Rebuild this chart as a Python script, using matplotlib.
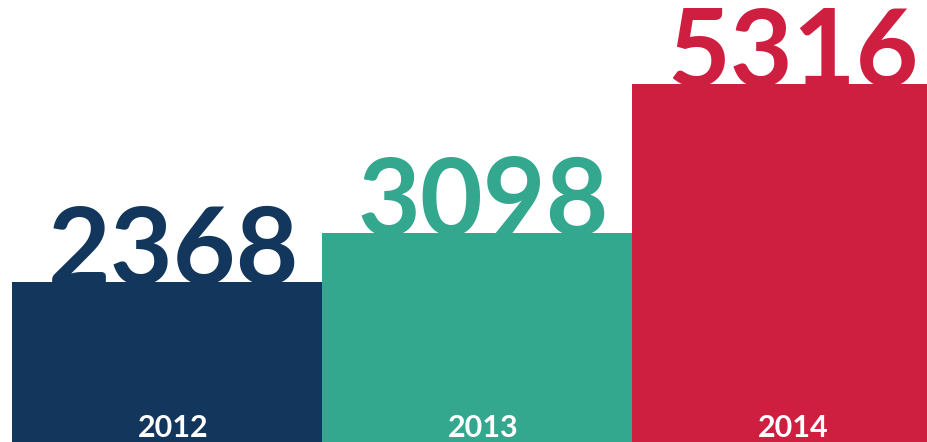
import matplotlib.pyplot as plt

# yearly totals
years = ["2012", "2013", "2014"]
totals = [2368, 3098, 5316]
colors = ["#13365C", "#34A78F", "#CF1F41"]

FONT = ["Lato", "DejaVu Sans"]

fig = plt.figure(figsize=(9.28, 4.42), dpi=100)
ax = fig.add_axes([12 / 928, 0, 916 / 928, 1])

x = range(len(years))
ax.bar(x, totals, width=1.0, color=colors, zorder=2)

ymax = 6558
ax.set_xlim(-0.5, 2.455)
ax.set_ylim(0, ymax)
px = ymax / 442  # data units per pixel

for i, (yr, val, c) in enumerate(zip(years, totals, colors)):
    ax.text(i + 0.02, val - 2 * px, str(val), ha="center", va="baseline",
            fontsize=78, fontweight="bold", color=c, family=FONT, zorder=1)
    ax.text(i + 0.02, 5 * px, yr, ha="center", va="baseline",
            fontsize=22, fontweight="bold", color="white", family=FONT, zorder=3)

ax.axis("off")
fig.savefig("out.png", dpi=100)
